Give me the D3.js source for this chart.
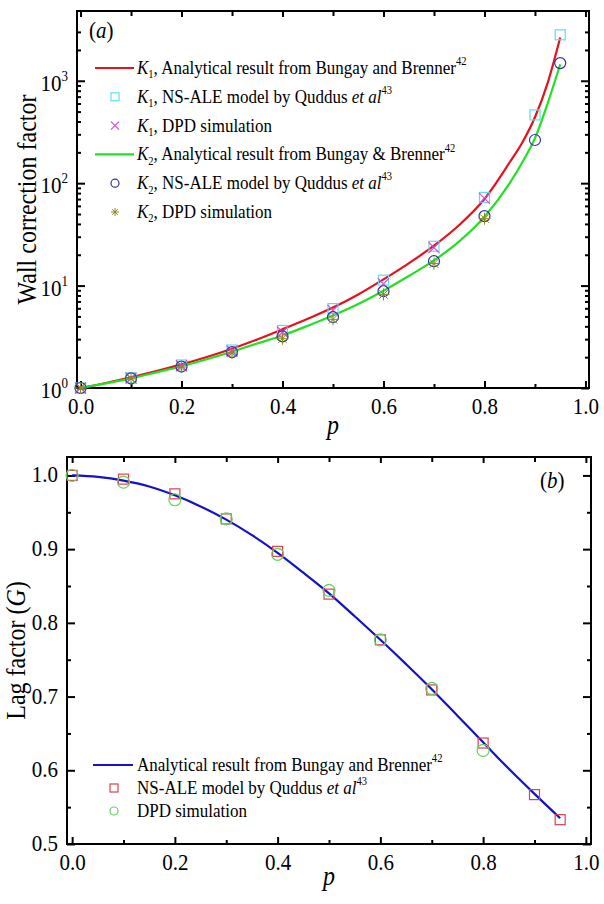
<!DOCTYPE html>
<html>
<head>
<meta charset="utf-8">
<script src="https://cdn.jsdelivr.net/npm/d3@7"></script>
<style>
  html, body { margin: 0; padding: 0; background: #fff; }
  svg { display: block; }
  text { font-family: "Liberation Serif", "Times New Roman", serif; fill: #000; }
</style>
</head>
<body>
<svg id="chart" width="604" height="904"></svg>
<script>
// ---------------- DATA ----------------
// Panel (a): wall correction factors
const curveP = [0, 0.05, 0.1, 0.15, 0.2, 0.25, 0.3, 0.35, 0.4, 0.45, 0.5, 0.55, 0.6, 0.65, 0.7, 0.75, 0.8, 0.85, 0.875, 0.9, 0.925, 0.95];
const k1Analytical = [1.0, 1.12, 1.27, 1.46, 1.70, 2.01, 2.42, 2.98, 3.75, 4.75, 6.1, 8.2, 11.5, 16.5, 24.5, 39, 70, 160, 250, 440, 950, 2650];
const k2Analytical = [1.0, 1.11, 1.24, 1.42, 1.63, 1.91, 2.26, 2.72, 3.26, 4.05, 5.1, 6.6, 8.9, 12.4, 17.6, 27, 47, 100, 160, 275, 600, 1450];

const nsAleP = [0, 0.1, 0.2, 0.3, 0.4, 0.5, 0.6, 0.7, 0.8, 0.9, 0.95];
const dpdP = [0, 0.1, 0.2, 0.3, 0.4, 0.5, 0.6, 0.7, 0.8];
const k1NsAle = [1.0, 1.26, 1.68, 2.35, 3.65, 5.96, 11.3, 24.2, 72.6, 464, 2810];
const k1Dpd = [1.0, 1.25, 1.65, 2.3, 3.52, 5.73, 10.4, 23.5, 71];
const k2NsAle = [1.0, 1.24, 1.62, 2.24, 3.19, 4.93, 8.8, 17.3, 47.7, 264, 1487];
const k2Dpd = [1.0, 1.23, 1.6, 2.2, 3.03, 4.68, 8.2, 16.4, 45];

// Panel (b): lag factor G
const gCurveP = [0, 0.05, 0.1, 0.15, 0.2, 0.25, 0.3, 0.35, 0.4, 0.45, 0.5, 0.55, 0.6, 0.65, 0.7, 0.75, 0.8, 0.85, 0.9, 0.95];
const gAnalytical = [1.0, 0.998, 0.993, 0.985, 0.973, 0.958, 0.940, 0.919, 0.895, 0.868, 0.840, 0.809, 0.777, 0.744, 0.710, 0.674, 0.638, 0.602, 0.568, 0.535];
const gNsAle = [1.0, 0.995, 0.975, 0.941, 0.897, 0.839, 0.777, 0.709, 0.637, 0.567, 0.533];
const gDpd = [1.0, 0.991, 0.967, 0.941, 0.893, 0.844, 0.777, 0.711, 0.627];

// Tick values
const xMajor = [0, 0.2, 0.4, 0.6, 0.8, 1.0];
const xMinor = [0.1, 0.3, 0.5, 0.7, 0.9];
const logMajor = [1, 10, 100, 1000];
const logMinorMult = [2, 3, 4, 5, 6, 7, 8, 9];
const gMajor = [0.5, 0.6, 0.7, 0.8, 0.9, 1.0];
const gMinor = [0.55, 0.65, 0.75, 0.85, 0.95];

// ---------------- DRAW ----------------
const svg = d3.select("#chart");
const FONT = '"Liberation Serif", "Times New Roman", serif';
const VS = 1.1; // vertical stretch of text, as in the reference

const C = {
  red: "#e8101c", green: "#22e022", cyan: "#5fdfe8", magenta: "#d84ad8",
  navy: "#3232a8", olive: "#8a8a1e", blue: "#1212c8", sqRed: "#e04050", cirGreen: "#5cd65c"
};

function zip(xs, ys) { return xs.map((x, i) => [x, ys[i]]); }

function frame(g, x0, y0, x1, y1) {
  g.append("rect").attr("x", x0).attr("y", y0).attr("width", x1 - x0).attr("height", y1 - y0)
    .attr("fill", "none").attr("stroke", "#000").attr("stroke-width", 2);
}

function drawAxes(g, x, y, yMaj, yMin, customY) {
  const [x0, x1] = x.range();
  const [yb, yt] = y.range();
  const ax = (axis, tr) => {
    const s = g.append("g").attr("transform", tr).call(axis);
    s.select(".domain").remove();
    s.selectAll(".tick line").attr("stroke", "#000").attr("stroke-width", 2);
    return s;
  };
  // bottom
  const b = ax(d3.axisBottom(x).tickValues(xMajor).tickSize(-7).tickPadding(9).tickFormat(d3.format(".1f")), `translate(0,${yb})`);
  b.selectAll("text").attr("font-size", 21).attr("font-family", FONT).attr("transform", `scale(1,${VS})`);
  ax(d3.axisBottom(x).tickValues(xMinor).tickSize(-4).tickFormat(""), `translate(0,${yb})`);
  // top
  ax(d3.axisTop(x).tickValues(xMajor).tickSize(-6).tickFormat(""), `translate(0,${yt})`);
  ax(d3.axisTop(x).tickValues(xMinor).tickSize(-5).tickFormat(""), `translate(0,${yt})`);
  // left
  const l = ax(d3.axisLeft(y).tickValues(yMaj).tickSize(-8).tickPadding(9).tickFormat(customY ? "" : d3.format(".1f")), `translate(${x0},0)`);
  l.selectAll(".tick text").attr("font-size", 21).attr("font-family", FONT)
    .attr("transform", `scale(1,${VS})`).attr("y", 0).attr("dy", "0.28em");
  ax(d3.axisLeft(y).tickValues(yMin).tickSize(-4).tickFormat(""), `translate(${x0},0)`);
  // right
  ax(d3.axisRight(y).tickValues(yMaj).tickSize(-8).tickFormat(""), `translate(${x1},0)`);
  ax(d3.axisRight(y).tickValues(yMin).tickSize(-4).tickFormat(""), `translate(${x1},0)`);
  frame(g, x0, yt, x1, yb);
}

function marker(g, type, cx, cy, color, s) {
  if (type === "square") {
    g.append("rect").attr("x", cx - s).attr("y", cy - s).attr("width", 2 * s).attr("height", 2 * s)
      .attr("fill", "none").attr("stroke", color).attr("stroke-width", 1.2);
  } else if (type === "circle") {
    g.append("circle").attr("cx", cx).attr("cy", cy).attr("r", s)
      .attr("fill", "none").attr("stroke", color).attr("stroke-width", 1.2);
  } else if (type === "x") {
    g.append("path").attr("d", `M${cx - s},${cy - s}L${cx + s},${cy + s}M${cx - s},${cy + s}L${cx + s},${cy - s}`)
      .attr("stroke", color).attr("stroke-width", 1.2).attr("fill", "none");
  } else if (type === "star") {
    const d = s * 0.707;
    g.append("path").attr("d",
      `M${cx - s},${cy}L${cx + s},${cy}M${cx},${cy - s}L${cx},${cy + s}` +
      `M${cx - d},${cy - d}L${cx + d},${cy + d}M${cx - d},${cy + d}L${cx + d},${cy - d}`)
      .attr("stroke", color).attr("stroke-width", 1).attr("fill", "none");
  }
}

function points(g, x, y, xs, ys, type, color, s) {
  xs.forEach((p, i) => marker(g, type, x(p), y(ys[i]), color, s));
}

function curve(g, x, y, xs, ys, color) {
  const line = d3.line().x(d => x(d[0])).y(d => y(d[1])).curve(d3.curveMonotoneX);
  g.append("path").attr("d", line(zip(xs, ys))).attr("fill", "none")
    .attr("stroke", color).attr("stroke-width", 2.2);
}

// rich text helper: parts = [{t, italic, sub, sup}]
function richText(g, xPos, yPos, parts, size) {
  const t = g.append("text").attr("x", 0).attr("y", 0)
    .attr("transform", `translate(${xPos},${yPos}) scale(1,${VS})`)
    .attr("font-size", size).attr("font-family", FONT);
  let shift = 0;
  parts.forEach(p => {
    const ts = t.append("tspan").text(p.t);
    if (p.italic) ts.attr("font-style", "italic");
    let target = 0;
    if (p.sub) { target = 4; ts.attr("font-size", size * 0.62); }
    if (p.sup) { target = -8; ts.attr("font-size", size * 0.62); }
    if (target !== shift) { ts.attr("dy", target - shift); shift = target; }
  });
  return t;
}

// ---------- Panel (a) ----------
const ga = svg.append("g");
const xa = d3.scaleLinear().domain([-0.007, 1.007]).range([77, 589]);
const ya = d3.scaleLog().domain([1, 4800]).range([388, 11]);

const logMinor = [];
logMajor.forEach(m => logMinorMult.forEach(k => { const v = m * k; if (v <= 3000) logMinor.push(v); }));

drawAxes(ga, xa, ya, logMajor, logMinor, true);

// log labels with superscripts
ga.selectAll("text.loglab").data(logMajor).enter().append("text")
  .attr("class", "loglab")
  .attr("x", 0).attr("y", 0)
  .attr("transform", d => `translate(68,${ya(d) + 10}) scale(1,${VS})`)
  .attr("text-anchor", "end").attr("font-size", 21).attr("font-family", FONT)
  .each(function (d) {
    const t = d3.select(this);
    t.append("tspan").text("10");
    t.append("tspan").text(Math.round(Math.log10(d))).attr("font-size", 13).attr("dy", -9);
  });

curve(ga, xa, ya, curveP, k1Analytical, C.red);
curve(ga, xa, ya, curveP, k2Analytical, C.green);
points(ga, xa, ya, nsAleP, k1NsAle, "square", C.cyan, 5);
points(ga, xa, ya, dpdP, k1Dpd, "x", C.magenta, 5.5);
points(ga, xa, ya, nsAleP, k2NsAle, "circle", C.navy, 5.5);
points(ga, xa, ya, dpdP, k2Dpd, "star", C.olive, 6);

// axis titles
ga.append("text").attr("transform", `translate(36,${(11 + 388) / 2}) rotate(-90) scale(1,1.12)`)
  .attr("text-anchor", "middle").attr("font-size", 24).attr("font-family", FONT).text("Wall correction factor");
ga.append("text").attr("transform", `translate(${(77 + 589) / 2},434) scale(1,${VS})`).attr("text-anchor", "middle")
  .attr("font-size", 24).attr("font-style", "italic").attr("font-family", FONT).text("p");
richText(ga, 89, 38, [{ t: "(" }, { t: "a", italic: true }, { t: ")" }], 21);

// legend (a)
const legA = [
  { type: "line", color: C.red, parts: [{ t: "K", italic: true }, { t: "1", sub: true }, { t: ", Analytical result from Bungay and Brenner" }, { t: "42", sup: true }] },
  { type: "square", color: C.cyan, parts: [{ t: "K", italic: true }, { t: "1", sub: true }, { t: ", NS-ALE model by Quddus " }, { t: "et al", italic: true }, { t: "43", sup: true }] },
  { type: "x", color: C.magenta, parts: [{ t: "K", italic: true }, { t: "1", sub: true }, { t: ", DPD simulation" }] },
  { type: "line", color: C.green, parts: [{ t: "K", italic: true }, { t: "2", sub: true }, { t: ", Analytical result from Bungay & Brenner" }, { t: "42", sup: true }] },
  { type: "circle", color: C.navy, parts: [{ t: "K", italic: true }, { t: "2", sub: true }, { t: ", NS-ALE model by Quddus " }, { t: "et al", italic: true }, { t: "43", sup: true }] },
  { type: "star", color: C.olive, parts: [{ t: "K", italic: true }, { t: "2", sub: true }, { t: ", DPD simulation" }] }
];
legA.forEach((e, i) => {
  const yy = 68 + i * 28.8;
  if (e.type === "line") {
    ga.append("line").attr("x1", 95).attr("x2", 134).attr("y1", yy).attr("y2", yy)
      .attr("stroke", e.color).attr("stroke-width", 2.2);
  } else {
    marker(ga, e.type, 115, yy, e.color, 4);
  }
  richText(ga, 137, yy + 6, e.parts, 17);
});

// ---------- Panel (b) ----------
const gb = svg.append("g");
const xb = d3.scaleLinear().domain([-0.01, 1.01]).range([67, 591]);
const yb = d3.scaleLinear().domain([0.5, 1.025]).range([844, 457]);

drawAxes(gb, xb, yb, gMajor, gMinor, false);

curve(gb, xb, yb, gCurveP, gAnalytical, C.blue);
points(gb, xb, yb, nsAleP, gNsAle, "square", C.sqRed, 5);
points(gb, xb, yb, dpdP, gDpd, "circle", C.cirGreen, 6);

gb.append("text").attr("transform", `translate(25,${(457 + 844) / 2}) rotate(-90) scale(1,1.12)`)
  .attr("text-anchor", "middle").attr("font-size", 24).attr("font-family", FONT)
  .call(t => { t.append("tspan").text("Lag factor ("); t.append("tspan").attr("font-style", "italic").text("G"); t.append("tspan").text(")"); });
gb.append("text").attr("transform", `translate(${(67 + 591) / 2},885) scale(1,${VS})`).attr("text-anchor", "middle")
  .attr("font-size", 24).attr("font-style", "italic").attr("font-family", FONT).text("p");
richText(gb, 540, 488, [{ t: "(" }, { t: "b", italic: true }, { t: ")" }], 21);

const legB = [
  { type: "line", color: C.blue, parts: [{ t: "Analytical result from Bungay and Brenner" }, { t: "42", sup: true }] },
  { type: "square", color: C.sqRed, parts: [{ t: "NS-ALE model by Quddus " }, { t: "et al", italic: true }, { t: "43", sup: true }] },
  { type: "circle", color: C.cirGreen, parts: [{ t: "DPD simulation" }] }
];
legB.forEach((e, i) => {
  const yy = 765 + i * 23;
  if (e.type === "line") {
    gb.append("line").attr("x1", 93).attr("x2", 133).attr("y1", yy).attr("y2", yy)
      .attr("stroke", e.color).attr("stroke-width", 2.2);
  } else {
    marker(gb, e.type, 114, yy, e.color, 4);
  }
  richText(gb, 137, yy + 6, e.parts, 17);
});
</script>
</body>
</html>
